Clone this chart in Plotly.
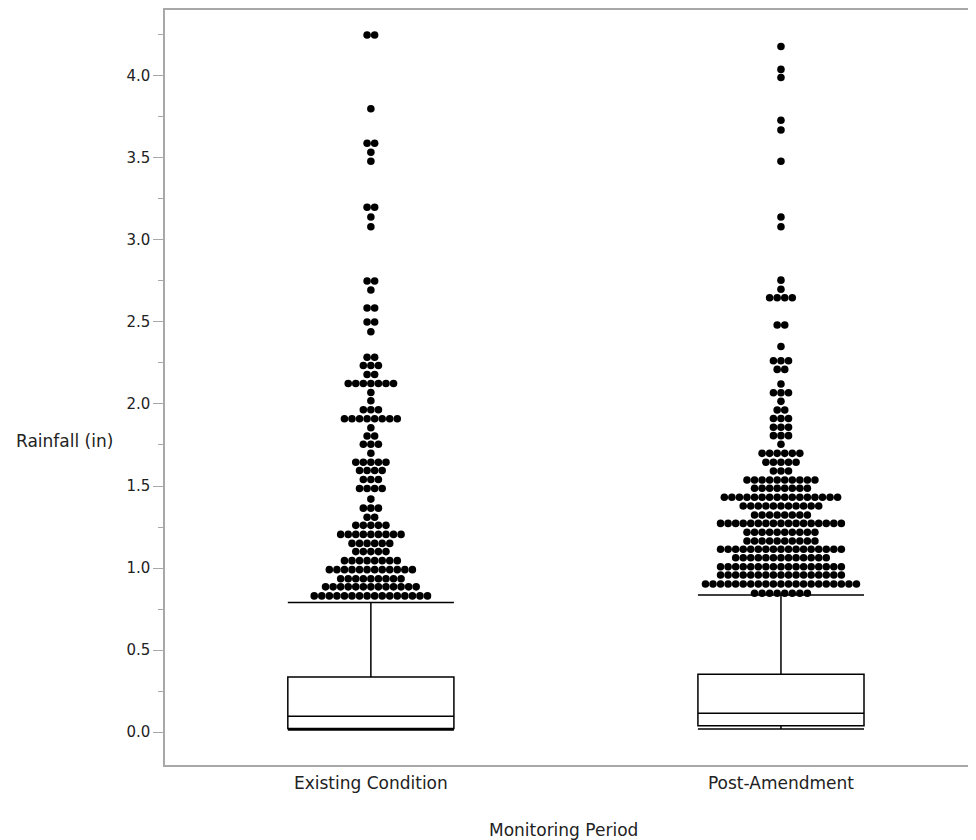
import plotly.graph_objects as go

# ---------------- data ----------------
categories = ["Existing Condition", "Post-Amendment"]
category_pos = [0, 1]

# box statistics (inches)
q1 = [0.022, 0.038]
median = [0.096, 0.114]
q3 = [0.335, 0.352]
lowerfence = [0.012, 0.018]
upperfence = [0.790, 0.835]

# outliers: value of each dot row and how many dots sit in that row
existing_outlier_values = [4.25, 3.80, 3.59, 3.535, 3.48, 3.20, 3.14, 3.08, 2.75, 2.695,
                           2.585, 2.50, 2.44, 2.285, 2.235, 2.18, 2.125, 2.07, 2.02, 1.965,
                           1.91, 1.855, 1.805, 1.755, 1.70, 1.645, 1.595, 1.54, 1.485, 1.42,
                           1.365, 1.31, 1.26, 1.205, 1.15, 1.10, 1.045, 0.99, 0.935, 0.885,
                           0.83]
existing_outlier_counts = [2, 1, 2, 1, 1, 2, 1, 1, 2, 1,
                           2, 2, 1, 2, 3, 2, 7, 1, 1, 3,
                           8, 1, 2, 3, 1, 5, 4, 3, 4, 1,
                           3, 2, 5, 9, 6, 5, 8, 12, 9, 13,
                           16]

post_outlier_values = [4.18, 4.04, 3.99, 3.73, 3.67, 3.48, 3.14, 3.08, 2.755, 2.70,
                       2.648, 2.482, 2.35, 2.264, 2.211, 2.122, 2.069, 2.016, 1.963, 1.912,
                       1.858, 1.807, 1.754, 1.699, 1.645, 1.591, 1.537, 1.486, 1.431, 1.378,
                       1.323, 1.272, 1.218, 1.165, 1.114, 1.063, 1.008, 0.957, 0.902, 0.846]
post_outlier_counts = [1, 1, 1, 1, 1, 1, 1, 1, 1, 1,
                       4, 2, 1, 3, 2, 1, 3, 1, 2, 3,
                       3, 3, 1, 6, 5, 3, 10, 8, 16, 11,
                       8, 17, 10, 10, 17, 13, 17, 17, 21, 8]

y_tick_values = [0.0, 0.5, 1.0, 1.5, 2.0, 2.5, 3.0, 3.5, 4.0]
y_tick_labels = ["0.0", "0.5", "1.0", "1.5", "2.0", "2.5", "3.0", "3.5", "4.0"]

x_title = "Monitoring Period"
y_title = "Rainfall (in)"

# ---------------- layout / style ----------------
PAGE_OFFSET = 8                      # default body margin of the html page
PLOT_L, PLOT_R, PLOT_T, PLOT_B = 165, 976, 10, 765   # target plot box in window pixels
W, H = 976 - PAGE_OFFSET, 840 - PAGE_OFFSET
ML = PLOT_L - PAGE_OFFSET
MR = (976 - PLOT_R)
MT = PLOT_T - PAGE_OFFSET
MB = H - (PLOT_B - PAGE_OFFSET)
PW, PH = PLOT_R - PLOT_L, PLOT_B - PLOT_T

X_RANGE = [-0.502, 1.4756]
Y_RANGE = [-0.201, 4.402]
DOT_PX = 7.55
px_per_x = PW / (X_RANGE[1] - X_RANGE[0])
dot_dx = DOT_PX / px_per_x

FONT = "DejaVu Sans"
AXIS_GRAY = "#a8a8a8"
TEXT = "#222222"

fig = go.Figure()

for i, pos in enumerate(category_pos):
    fig.add_trace(go.Box(
        x=[pos], q1=[q1[i]], median=[median[i]], q3=[q3[i]],
        lowerfence=[lowerfence[i]], upperfence=[upperfence[i]],
        width=0.405, whiskerwidth=1, boxpoints=False,
        line=dict(color="black", width=1.5), fillcolor="rgba(255,255,255,0)",
        showlegend=False, hoverinfo="skip",
    ))


def dot_rows(center, values, counts):
    xs, ys = [], []
    for v, n in zip(values, counts):
        for k in range(n):
            xs.append(center + (k - (n - 1) / 2) * dot_dx)
            ys.append(v)
    return xs, ys


for pos, vals, cnts in [(category_pos[0], existing_outlier_values, existing_outlier_counts),
                        (category_pos[1], post_outlier_values, post_outlier_counts)]:
    xs, ys = dot_rows(pos, vals, cnts)
    fig.add_trace(go.Scatter(
        x=xs, y=ys, mode="markers",
        marker=dict(color="black", size=DOT_PX, line=dict(width=0)),
        showlegend=False, hoverinfo="skip",
    ))

fig.update_layout(
    width=W, height=H,
    margin=dict(l=ML, r=MR, t=MT, b=MB),
    paper_bgcolor="white", plot_bgcolor="white",
    font=dict(family=FONT, size=15, color=TEXT),
    xaxis=dict(
        range=X_RANGE, tickvals=category_pos, ticktext=categories,
        ticks="", showgrid=False, zeroline=False,
        showline=True, linecolor=AXIS_GRAY, linewidth=1.5, mirror=True,
        tickfont=dict(size=17, color=TEXT), ticklabelstandoff=2,
    ),
    yaxis=dict(
        range=Y_RANGE, tickvals=y_tick_values, ticktext=y_tick_labels,
        ticks="outside", ticklen=10, tickcolor=AXIS_GRAY, tickwidth=1,
        minor=dict(dtick=0.25, tick0=0, ticks="outside", ticklen=5, tickcolor=AXIS_GRAY),
        showgrid=False, zeroline=False,
        showline=True, linecolor=AXIS_GRAY, linewidth=1.5,
        tickfont=dict(size=15, color=TEXT),
    ),
    annotations=[
        dict(text=y_title, xref="paper", yref="paper",
             x=(64 - PLOT_L) / PW, y=(PLOT_B - 441) / PH,
             xanchor="center", yanchor="middle", showarrow=False,
             font=dict(size=17, color=TEXT)),
        dict(text=x_title, xref="paper", yref="paper",
             x=(563 - PLOT_L) / PW, y=(PLOT_B - 830) / PH,
             xanchor="center", yanchor="middle", showarrow=False,
             font=dict(size=17, color=TEXT)),
    ],
)

fig.write_html("out.html")
